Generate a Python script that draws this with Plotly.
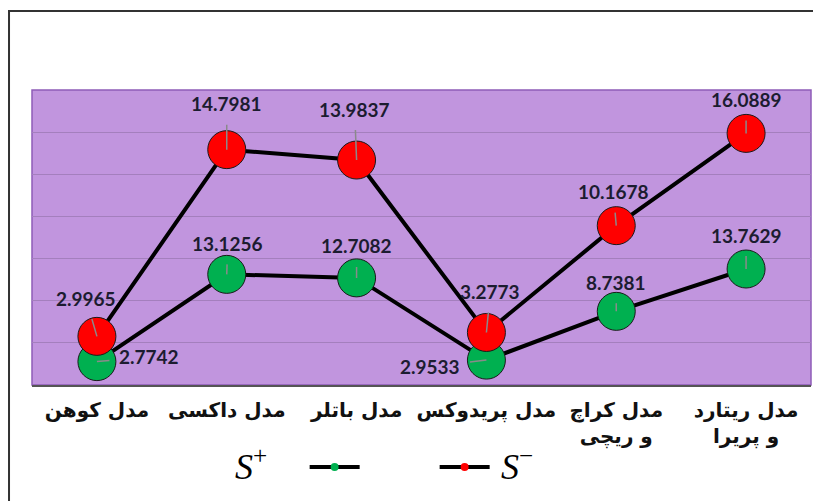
import numpy as np
import plotly.graph_objects as go

categories = ["مدل کوهن", "مدل داکسی", "مدل باتلر", "مدل پریدوکس", "مدل کراچ<br>و ریچی", "مدل ریتارد<br>و پریرا"]
s_plus = [2.7742, 13.1256, 12.7082, 2.9533, 8.7381, 13.7629]
s_minus = [2.9965, 14.7981, 13.9837, 3.2773, 10.1678, 16.0889]
series_names = ["<i>S</i><sup>+</sup>", "<i>S</i><sup>−</sup>"]

# label offsets (pixels) for data labels, style only
plus_offsets = [(52, -5), (1, -31), (0, -32), (-56, 6), (0, -29), (0, -34)]
minus_offsets = [(-11, -38), (0, -46), (-2, -51), (4, -41), (-3, -34), (0, -34)]

plus_arr = np.array(s_plus)
stack_minus = plus_arr + np.array(s_minus)  # stacked line chart

fig = go.Figure()
fig.add_trace(go.Scatter(
    x=categories, y=plus_arr, mode="lines+markers", showlegend=False,
    line=dict(color="black", width=4),
    marker=dict(size=38, color="#00B050", line=dict(color="#1a1a1a", width=1)),
))
fig.add_trace(go.Scatter(
    x=categories, y=stack_minus, mode="lines+markers", showlegend=False,
    line=dict(color="black", width=4),
    marker=dict(size=38, color="#FF0000", line=dict(color="#1a1a1a", width=1)),
))
# legend-only entries (names drawn as annotations to match the layout)
fig.add_trace(go.Scatter(x=[None], y=[None], mode="lines+markers", name=" ",
                         line=dict(color="black", width=4),
                         marker=dict(size=8, color="#00B050")))
fig.add_trace(go.Scatter(x=[None], y=[None], mode="lines+markers", name=" ",
                         line=dict(color="black", width=4),
                         marker=dict(size=8, color="#FF0000")))

annotations = []
label_font = dict(family="Lato, Liberation Sans, sans-serif", size=19, color="#1c1c30", weight="bold")
for cat, yv, v, (ax, ay) in zip(categories, plus_arr, s_plus, plus_offsets):
    annotations.append(dict(x=cat, y=yv, xref="x", yref="y", text=f"{v:.4f}",
                            showarrow=True, arrowhead=0, arrowwidth=1.5, arrowcolor="#8a8a8a",
                            ax=ax, ay=ay, startstandoff=8, font=label_font))
for cat, yv, v, (ax, ay) in zip(categories, stack_minus, s_minus, minus_offsets):
    annotations.append(dict(x=cat, y=yv, xref="x", yref="y", text=f"{v:.4f}",
                            showarrow=True, arrowhead=0, arrowwidth=1.5, arrowcolor="#8a8a8a",
                            ax=ax, ay=ay, startstandoff=8, font=label_font))
legend_font = dict(family="Liberation Serif, DejaVu Serif, serif", size=36, color="black")
annotations.append(dict(x=0.258, y=-0.353, xref="paper", yref="paper", showarrow=False,
                        text=series_names[0], font=legend_font))
annotations.append(dict(x=0.622, y=-0.353, xref="paper", yref="paper", showarrow=False,
                        text=series_names[1], font=legend_font))

fig.update_layout(
    width=813, height=493,
    margin=dict(l=24, r=10, t=82, b=116),
    paper_bgcolor="white",
    plot_bgcolor="#C195DE",
    showlegend=True,
    legend=dict(orientation="h", x=0.35, y=-0.278, xanchor="left", yanchor="middle",
                entrywidth=65, entrywidthmode="pixels", itemwidth=50,
                bgcolor="rgba(0,0,0,0)",
                font=dict(family="Liberation Serif, DejaVu Serif, serif", size=10, color="black")),
    annotations=annotations,
    xaxis=dict(type="category", range=[-0.5, 5.5], showgrid=False, zeroline=False,
               showline=True, linecolor="#555555", linewidth=2, ticks="",
               ticklabelstandoff=6,
               tickfont=dict(family="DejaVu Sans, sans-serif", size=20, color="#111111", weight="bold")),
    yaxis=dict(range=[0, 35], dtick=5, showticklabels=False, showgrid=True,
               gridcolor="#A47FBD", gridwidth=1, zeroline=False, showline=False),
    shapes=[
        dict(type="rect", xref="paper", yref="paper", x0=0, x1=1, y0=0, y1=1,
             line=dict(color="#8E5CB8", width=1.5), layer="below"),
        dict(type="rect", xref="paper", yref="paper", x0=-0.0295, x1=1.1, y0=-0.6, y1=1.268,
             line=dict(color="#333333", width=2)),
    ],
)

fig.write_html("out.html")
